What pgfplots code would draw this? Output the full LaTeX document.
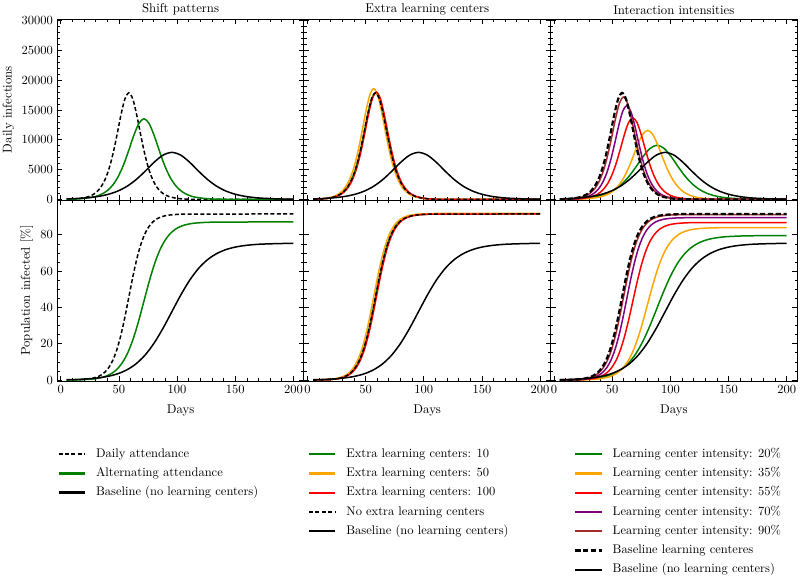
\documentclass[border=0pt]{standalone}
\usepackage{pgfplots}
\usepackage{pgfplotstable}
\pgfplotsset{compat=1.18}
\newcommand{\fs}{\fontsize{10.2}{12.2}\selectfont}
\newcommand{\lfs}{\fontsize{10}{12}\selectfont}
\definecolor{mgreen}{HTML}{008000}
\definecolor{morange}{HTML}{FFA500}
\definecolor{mred}{HTML}{FF0000}
\definecolor{mpurple}{HTML}{800080}
\definecolor{mbrown}{HTML}{A52A2A}

% Left: daily attendance (dashed)
\pgfplotstableread{
x y
5 30
10.2 65
17.1 177
24.0 476
27.45 779
30.9 1266
34.35 2037
37.8 3235
41.25 5019
44.7 7518
48.15 10677
51.6 14077
55.05 16826
58.5 17900
61.95 16826
65.4 14077
68.85 10677
72.3 7518
75.75 5019
79.2 3235
82.65 2037
86.1 1266
89.55 779
93.0 476
99.9 177
106.8 65
120 10
200 0
}\tDashD
\pgfplotstableread{
x y
5 0.04
10.2 0.083
17.1 0.226
24.0 0.612
27.45 1.006
30.9 1.646
34.35 2.682
37.8 4.340
41.25 6.941
44.7 10.907
48.15 16.690
51.6 24.604
55.05 34.541
58.5 45.75
61.95 56.959
65.4 66.896
68.85 74.810
72.3 80.593
75.75 84.559
79.2 87.160
82.65 88.818
86.1 89.854
89.55 90.494
93.0 90.888
99.9 91.274
106.8 91.417
120 91.48
200 91.5
}\tDashC
% Alternating attendance
\pgfplotstableread{
x y
5 31
9.2 49
18.1 134
27.0 360
31.45 589
35.9 958
40.35 1542
44.8 2448
49.25 3799
53.7 5691
58.15 8083
62.6 10656
67.05 12737
71.5 13550
75.95 12737
80.4 10656
84.85 8083
89.3 5691
93.75 3799
98.2 2448
102.65 1542
107.1 958
111.55 589
116.0 360
124.9 134
133.8 49
150 8
200 0
}\tAltD
\pgfplotstableread{
x y
5 0.05
9.2 0.079
18.1 0.215
27.0 0.583
31.45 0.957
35.9 1.567
40.35 2.553
44.8 4.131
49.25 6.607
53.7 10.382
58.15 15.887
62.6 23.421
67.05 32.880
71.5 43.55
75.95 54.220
80.4 63.679
84.85 71.213
89.3 76.718
93.75 80.489
98.2 82.971
102.65 84.548
107.1 85.532
111.55 86.142
116.0 86.516
124.9 86.882
133.8 87.021
150 87.08
200 87.1
}\tAltC
% Baseline (no learning centers)
\pgfplotstableread{
x y
5 88
10.8 128
18.5 210
26.2 344
33.9 558
41.6 899
49.3 1428
57.0 2215
64.7 3318
72.4 4712
80.1 6213
87.8 7426
95.5 7900
103.2 7426
110.9 6213
118.6 4712
126.3 3318
134.0 2215
141.7 1428
149.4 899
157.1 558
164.8 344
172.5 210
187.9 78
200 35
}\tBaseD
\pgfplotstableread{
x y
5 0.210
10.8 0.307
18.5 0.504
26.2 0.829
33.9 1.356
41.6 2.210
49.3 3.576
57.0 5.720
64.7 8.988
72.4 13.753
80.1 20.275
87.8 28.464
95.5 37.7
103.2 46.937
110.9 55.125
118.6 61.647
126.3 66.412
134.0 69.677
141.7 71.826
149.4 73.191
157.1 74.043
164.8 74.571
172.5 74.895
187.9 75.212
200 75.316
}\tBaseC
% Extra learning centers: 100
\pgfplotstableread{
x y
5 27
11.0 66
17.9 178
24.8 479
28.25 783
31.7 1273
35.15 2048
38.6 3253
42.05 5047
45.5 7560
48.95 10737
52.4 14155
55.85 16920
59.3 18000
62.75 16920
66.2 14155
69.65 10737
73.1 7560
76.55 5047
80.0 3253
83.45 2048
86.9 1273
90.35 783
93.8 479
100.7 178
107.6 66
120 12
200 0
}\tMRD
\pgfplotstableread{
x y
5 0.04
11.0 0.083
17.9 0.226
24.8 0.612
28.25 1.006
31.7 1.646
35.15 2.682
38.6 4.340
42.05 6.941
45.5 10.907
48.95 16.690
52.4 24.604
55.85 34.541
59.3 45.75
62.75 56.959
66.2 66.896
69.65 74.810
73.1 80.593
76.55 84.559
80.0 87.160
83.45 88.818
86.9 89.854
90.35 90.494
93.8 90.888
100.7 91.274
107.6 91.417
120 91.48
200 91.5
}\tMRC
% Extra learning centers: 50
\pgfplotstableread{
x y
5 40
8.7 68
15.6 184
22.5 495
25.95 809
29.4 1315
32.85 2117
36.3 3361
39.75 5215
43.2 7812
46.65 11095
50.1 14627
53.55 17484
57 18600
60.45 17484
63.9 14627
67.35 11095
70.8 7812
74.25 5215
77.7 3361
81.15 2117
84.6 1315
88.05 809
91.5 495
98.4 184
105.3 68
120 8
200 0
}\tMOD
\pgfplotstableread{
x y
5 0.05
8.7 0.084
15.6 0.227
22.5 0.614
25.95 1.009
29.4 1.651
32.85 2.691
36.3 4.354
39.75 6.964
43.2 10.943
46.65 16.744
50.1 24.685
53.55 34.655
57 45.9
60.45 57.146
63.9 67.115
67.35 75.056
70.8 80.857
74.25 84.832
77.7 87.449
81.15 89.110
84.6 90.148
88.05 90.790
91.5 91.185
98.4 91.571
105.3 91.717
120 91.79
200 91.8
}\tMOC
% intensity 90%
\pgfplotstableread{
x y
5 24
11.4 63
18.3 170
25.2 458
28.65 748
32.1 1216
35.55 1957
39.0 3108
42.45 4823
45.9 7224
49.35 10260
52.8 13526
56.25 16168
59.7 17200
63.15 16168
66.6 13526
70.05 10260
73.5 7224
76.95 4823
80.4 3108
83.85 1957
87.3 1216
90.75 748
94.2 458
101.1 170
108.0 63
120 12
200 0
}\tRBD
\pgfplotstableread{
x y
5 0.03
11.4 0.083
18.3 0.225
25.2 0.610
28.65 1.002
32.1 1.641
35.55 2.673
39.0 4.326
42.45 6.918
45.9 10.871
49.35 16.635
52.8 24.524
56.25 34.428
59.7 45.6
63.15 56.772
66.6 66.676
70.05 74.565
73.5 80.329
76.95 84.278
80.4 86.877
83.85 88.528
87.3 89.558
90.75 90.197
94.2 90.589
101.1 90.972
108.0 91.118
120 91.18
200 91.2
}\tRBC
% intensity 70%
\pgfplotstableread{
x y
5 15
14.2 57
21.1 155
28.0 419
31.45 685
34.9 1114
38.35 1792
41.8 2846
45.25 4416
48.7 6615
52.15 9395
55.6 12386
59.05 14805
62.5 15750
65.95 14805
69.4 12386
72.85 9395
76.3 6615
79.75 4416
83.2 2846
86.65 1792
90.1 1114
93.55 685
97.0 419
103.9 155
110.8 57
125 7
200 0
}\tRPD
\pgfplotstableread{
x y
5 0.02
14.2 0.081
21.1 0.221
28.0 0.599
31.45 0.984
34.9 1.610
38.35 2.623
41.8 4.245
45.25 6.789
48.7 10.668
52.15 16.325
55.6 24.067
59.05 33.786
62.5 44.75
65.95 55.714
69.4 65.433
72.85 73.175
76.3 78.832
79.75 82.707
83.2 85.258
86.65 86.878
90.1 87.889
93.55 88.516
97.0 88.900
103.9 89.276
110.8 89.419
125 89.48
200 89.5
}\tRPC
% intensity 55%
\pgfplotstableread{
x y
5 12
15.9 50
23.3 135
30.7 364
34.4 596
38.1 969
41.8 1559
45.5 2476
49.2 3841
52.9 5754
56.6 8172
60.3 10774
64.0 12878
67.7 13700
71.4 12878
75.1 10774
78.8 8172
82.5 5754
86.2 3841
89.9 2476
93.6 1559
97.3 969
101.0 596
104.7 364
112.1 135
119.5 50
140 2
200 0
}\tRRD
\pgfplotstableread{
x y
5 0.02
15.9 0.079
23.3 0.214
30.7 0.581
34.4 0.954
38.1 1.562
41.8 2.544
45.5 4.117
49.2 6.585
52.9 10.347
56.6 15.832
60.3 23.341
64.0 32.767
67.7 43.4
71.4 54.033
75.1 63.459
78.8 70.968
82.5 76.453
86.2 80.212
89.9 82.686
93.6 84.257
97.3 85.238
101.0 85.845
104.7 86.218
112.1 86.583
119.5 86.721
140 86.79
200 86.8
}\tRRC
% intensity 35%
\pgfplotstableread{
x y
5 8
19.6 42
28.3 114
37.0 309
41.35 505
45.7 820
50.05 1320
54.4 2096
58.75 3253
63.1 4872
67.45 6919
71.8 9122
76.15 10904
80.5 11600
84.85 10904
89.2 9122
93.55 6919
97.9 4872
102.25 3253
106.6 2096
110.95 1320
115.3 820
119.65 505
124.0 309
132.7 114
141.4 42
160 5
200 0
}\tROD
\pgfplotstableread{
x y
5 0.015
19.6 0.076
28.3 0.207
37.0 0.562
41.35 0.923
45.7 1.511
50.05 2.462
54.4 3.984
58.75 6.372
63.1 10.013
67.45 15.322
71.8 22.588
76.15 31.71
80.5 42.0
84.85 52.29
89.2 61.412
93.55 68.678
97.9 73.987
102.25 77.624
106.6 80.018
110.95 81.539
115.3 82.488
119.65 83.076
124.0 83.437
132.7 83.79
141.4 83.924
160 83.99
200 84.0
}\tROC
% intensity 20%
\pgfplotstableread{
x y
5 38
15.4 90
27.6 242
33.7 396
39.8 643
45.9 1036
52.0 1644
58.1 2552
64.2 3822
70.3 5428
76.4 7156
82.5 8554
88.6 9100
94.7 8554
100.8 7156
106.9 5428
113.0 3822
119.1 2552
125.2 1644
131.3 1036
137.4 643
143.5 396
149.6 242
161.8 90
174.0 33
200 4
}\tRGD
\pgfplotstableread{
x y
5 0.084
15.4 0.197
27.6 0.533
33.7 0.875
39.8 1.432
45.9 2.333
52.0 3.775
58.1 6.038
64.2 9.488
70.3 14.519
76.4 21.404
82.5 30.049
88.6 39.8
94.7 49.551
100.8 58.196
106.9 65.081
113.0 70.112
119.1 73.558
125.2 75.827
131.3 77.268
137.4 78.167
143.5 78.724
149.6 79.067
161.8 79.401
174.0 79.528
200 79.6
}\tRGC

\pgfplotsset{
  panel/.style={
    scale only axis, width=197.3pt, height=144.8pt,
    xmin=-3, xmax=209, xtick={0,50,100,150,200},
    minor x tick num=4,
    tick align=inside, xtick pos=both, ytick pos=both,
    major tick length=4pt, minor tick length=2.1pt,
    every tick/.style={black, line width=0.64pt},
    axis line style={line width=0.8pt},
    font=\fs, tick label style={font=\fs}, label style={font=\fs},
    every axis title shift=0.8pt,
    title style={font=\fs, inner sep=2.4pt},
    ylabel style={yshift=-1pt},
    xlabel style={yshift=-2.4pt},
    /pgf/number format/1000 sep={}, scaled ticks=false,
    anchor=north west,
    legend cell align=left,
    legend image code/.code={\draw[##1, line width=1.8pt] (0pt,0pt) -- (21pt,0pt);},
    legend style={draw=none, fill=none, font=\lfs, anchor=north west,
      row sep=2.2pt, column sep=6.4pt, inner sep=0pt,
      nodes={inner sep=1.6pt, text height=7.5pt, text depth=2.5pt}},
    every axis plot/.append style={line width=1.2pt, no markers, smooth},
  },
  toprow/.style={panel, ymin=-100, ymax=30300, ytick={0,5000,...,30000},
    minor y tick num=4, xticklabels={}},
  botrow/.style={panel, ymin=-0.5, ymax=99.2, ytick={0,20,...,80},
    minor y tick num=3, xlabel={Days}},
  dsh/.style={black, dash pattern=on 3.2pt off 1.9pt},
  dshthick/.style={black, line width=1.75pt, dash pattern=on 4.2pt off 2.1pt},
}

\begin{document}
\begin{tikzpicture}
\path[use as bounding box] (0,0) rectangle (640pt,-461.6pt);

% ---------- column 1 ----------
\begin{axis}[toprow, at={(45.84pt,-15.2pt)}, title={Shift patterns}, ylabel={Daily infections}]
\addplot[dsh] table {\tDashD};
\addplot[mgreen] table {\tAltD};
\addplot[black] table {\tBaseD};
\end{axis}
\begin{axis}[botrow, at={(45.84pt,-160pt)}, ylabel={Population infected [\%]},
  legend style={at={(rel axis cs:0,-0.357)}}]
\addplot[dsh] table {\tDashC};
\addlegendentry{Daily attendance}
\addplot[mgreen] table {\tAltC};
\addlegendentry{Alternating attendance}
\addplot[black] table {\tBaseC};
\addlegendentry{Baseline (no learning centers)}
\end{axis}

% ---------- column 2 ----------
\begin{axis}[toprow, at={(243.14pt,-15.2pt)}, title={Extra learning centers}, yticklabels={}]
\addplot[mgreen] table {\tDashD};
\addplot[morange] table {\tMOD};
\addplot[mred] table {\tMRD};
\addplot[dsh] table {\tDashD};
\addplot[black] table {\tBaseD};
\end{axis}
\begin{axis}[botrow, at={(243.14pt,-160pt)}, yticklabels={},
  legend style={at={(rel axis cs:0.015,-0.357)}}]
\addplot[mgreen] table {\tDashC};
\addlegendentry{Extra learning centers: 10}
\addplot[morange] table {\tMOC};
\addlegendentry{Extra learning centers: 50}
\addplot[mred] table {\tMRC};
\addlegendentry{Extra learning centers: 100}
\addplot[dsh] table {\tDashC};
\addlegendentry{No extra learning centers}
\addplot[black] table {\tBaseC};
\addlegendentry{Baseline (no learning centers)}
\end{axis}

% ---------- column 3 ----------
\begin{axis}[toprow, at={(440.44pt,-15.2pt)}, title={Interaction intensities}, yticklabels={}]
\addplot[mgreen] table {\tRGD};
\addplot[morange] table {\tROD};
\addplot[mred] table {\tRRD};
\addplot[mpurple] table {\tRPD};
\addplot[mbrown] table {\tRBD};
\addplot[dshthick] table {\tDashD};
\addplot[black] table {\tBaseD};
\end{axis}
\begin{axis}[botrow, at={(440.44pt,-160pt)}, yticklabels={},
  legend style={at={(rel axis cs:0.095,-0.357)}}]
\addplot[mgreen] table {\tRGC};
\addlegendentry{Learning center intensity: 20\%}
\addplot[morange] table {\tROC};
\addlegendentry{Learning center intensity: 35\%}
\addplot[mred] table {\tRRC};
\addlegendentry{Learning center intensity: 55\%}
\addplot[mpurple] table {\tRPC};
\addlegendentry{Learning center intensity: 70\%}
\addplot[mbrown] table {\tRBC};
\addlegendentry{Learning center intensity: 90\%}
\addplot[dshthick] table {\tDashC};
\addlegendentry{Baseline learning centeres}
\addplot[black] table {\tBaseC};
\addlegendentry{Baseline (no learning centers)}
\end{axis}
\end{tikzpicture}
\end{document}
